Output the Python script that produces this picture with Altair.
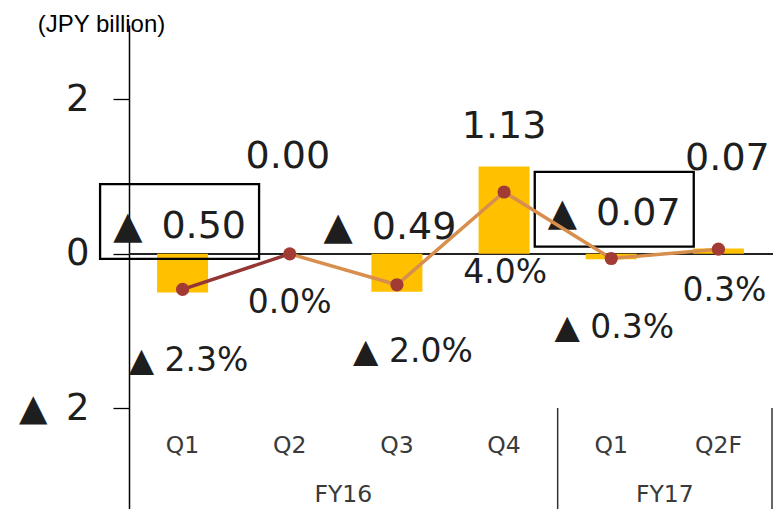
import altair as alt
import pandas as pd

# Quarterly operating result (JPY billion) and operating margin (%)
quarters = ["FY16 Q1", "FY16 Q2", "FY16 Q3", "FY16 Q4", "FY17 Q1", "FY17 Q2F"]
quarter_names = ["Q1", "Q2", "Q3", "Q4", "Q1", "Q2F"]
fiscal_years = ["FY16", "FY16", "FY16", "FY16", "FY17", "FY17"]
profit = [-0.50, 0.00, -0.49, 1.13, -0.07, 0.07]
margin = [-2.3, 0.0, -2.0, 4.0, -0.3, 0.3]
highlighted = ["FY16 Q1", "FY17 Q1"]

# pixel nudges for the value labels
profit_label_dx = [-3, -2, -7, 0, 3, 9]
profit_label_dy = [-55, -86, -53, -28, -34, -78]
margin_label_dx = [6, 0, 16, 1, 3, 6]
margin_label_dy = [82, 59, 77, 91, 80, 52]

FONT = "DejaVu Sans"
TEXT = "#1e1e1e"
BAR = "#FFC000"
LINE_DARK = "#943634"
LINE_LIGHT = "#D88E4C"
DOT = "#A33B35"
EN_SPACE = "\u2002"

PROFIT_DOMAIN = [-3.30, 2.96]
MARGIN_DOMAIN = [d * 5 for d in PROFIT_DOMAIN]  # 5 % per JPY billion


def marked(v, digits, suffix="", gap=" "):
    s = f"{abs(v):.{digits}f}{suffix}"
    return "▲" + gap + s if v < 0 else s


df = pd.DataFrame({
    "quarter": quarters,
    "qname": quarter_names,
    "fy": fiscal_years,
    "profit": profit,
    "margin": margin,
})
df["profit_label"] = [marked(v, 2, gap=EN_SPACE) for v in profit]
df["margin_label"] = [marked(v, 1, "%") for v in margin]

x_scale = alt.Scale(domain=quarters, paddingInner=0, paddingOuter=0)
X = alt.X("quarter:N", scale=x_scale, axis=None, sort=quarters)

y_profit_scale = alt.Scale(domain=PROFIT_DOMAIN, nice=False, zero=False)
y_margin_scale = alt.Scale(domain=MARGIN_DOMAIN, nice=False, zero=False)

Y_profit = alt.Y(
    "profit:Q",
    scale=y_profit_scale,
    axis=alt.Axis(
        values=[-2, 0, 2],
        labelExpr=f"datum.value < 0 ? '▲{EN_SPACE}' + format(abs(datum.value), 'd') : format(datum.value, 'd')",
        labelFont=FONT,
        labelFontSize=37,
        labelColor=TEXT,
        labelPadding=24,
        labelBaseline="middle",
        tickSize=16,
        tickColor="black",
        tickWidth=1.3,
        domainColor="black",
        domainWidth=1.5,
        grid=False,
        title="(JPY billion)",
        titleFont="Liberation Sans",
        titleFontSize=24,
        titleFontWeight="normal",
        titleColor="black",
        titleAngle=0,
        titleAlign="center",
        titleBaseline="alphabetic",
        titleX=-28,
        titleY=6,
    ),
)
Y_margin = alt.Y("margin:Q", scale=y_margin_scale, axis=None)

base = alt.Chart(df)

zero_line = base.mark_rule(color="#222", strokeWidth=1.4).encode(
    y=alt.Y(datum=0, scale=y_profit_scale), x=alt.value(0), x2=alt.value(644)
)

bars = base.mark_bar(size=51, color=BAR).encode(x=X, y=Y_profit)

profit_labels = []
for i, q in enumerate(quarters):
    profit_labels.append(
        base.transform_filter(alt.datum.quarter == q)
        .mark_text(
            dx=profit_label_dx[i], dy=profit_label_dy[i], font=FONT, fontSize=38,
            color=TEXT, align="center", baseline="alphabetic",
        )
        .encode(x=X, y=alt.Y("profit:Q", scale=y_profit_scale), text="profit_label:N")
    )
    if q in highlighted:
        profit_labels.append(
            base.transform_filter(alt.datum.quarter == q)
            .mark_point(
                shape="M-1,-0.47L1,-0.47L1,0.47L-1,0.47Z", size=159 ** 2,
                filled=False, color="black", strokeWidth=2.3, opacity=1,
                xOffset=profit_label_dx[i], yOffset=profit_label_dy[i] - 16,
            )
            .encode(x=X, y=alt.Y("profit:Q", scale=y_profit_scale))
        )

# category axis: quarter names, fiscal year groups and their separators
quarter_text = base.mark_text(
    font=FONT, fontSize=23.5, color="#3a3a3a", baseline="alphabetic"
).encode(x=X, y=alt.value(428), text="qname:N")

fy_names = list(dict.fromkeys(fiscal_years))
fy_members = {fy: [q for q, f in zip(quarters, fiscal_years) if f == fy] for fy in fy_names}
fy_df = pd.DataFrame({
    "fy": fy_names,
    "middle": [fy_members[f][len(fy_members[f]) // 2 - 1] for f in fy_names],
    "last": [fy_members[f][-1] for f in fy_names],
})
fy_text = alt.Chart(fy_df).mark_text(
    font=FONT, fontSize=23.5, color="#3a3a3a", baseline="alphabetic"
).encode(
    x=alt.X("middle:N", scale=x_scale, axis=None, bandPosition=1),
    y=alt.value(477),
    text="fy:N",
)
fy_separators = alt.Chart(fy_df).mark_rule(color="#333", strokeWidth=1.5).encode(
    x=alt.X("last:N", scale=x_scale, axis=None, bandPosition=1),
    y=alt.value(383),
    y2=alt.value(484),
)

profit_layer = alt.layer(
    zero_line, bars.encode(y=Y_profit), *profit_labels, quarter_text, fy_text, fy_separators
)

# margin line: first segment darker than the rest
seg_rows = []
for i, q in enumerate(quarters):
    if i <= 1:
        seg_rows.append({"quarter": q, "margin": margin[i], "seg": "first", "idx": i})
    if i >= 1:
        seg_rows.append({"quarter": q, "margin": margin[i], "seg": "rest", "idx": i})
seg_df = pd.DataFrame(seg_rows)

line = alt.Chart(seg_df).mark_line(strokeWidth=3.5).encode(
    x=X,
    y=Y_margin,
    color=alt.Color("seg:N", scale=alt.Scale(domain=["first", "rest"], range=[LINE_DARK, LINE_LIGHT]), legend=None),
    detail="seg:N",
    order=alt.Order("idx:Q"),
)
dots = base.mark_circle(size=175, color=DOT, opacity=1).encode(x=X, y=Y_margin)

margin_labels = []
for i, q in enumerate(quarters):
    margin_labels.append(
        base.transform_filter(alt.datum.quarter == q)
        .mark_text(
            dx=margin_label_dx[i], dy=margin_label_dy[i], font=FONT, fontSize=33,
            color=TEXT, align="center", baseline="alphabetic",
        )
        .encode(x=X, y=Y_margin, text="margin_label:N")
    )

margin_layer = alt.layer(line, dots, *margin_labels)

chart = (
    alt.layer(profit_layer, margin_layer)
    .resolve_scale(y="independent", color="independent")
    .properties(
        width=643,
        height=484,
        autosize=alt.AutoSizeParams(type="none"),
        padding={"left": 129, "top": 25, "right": 4, "bottom": 0},
        background="white",
    )
    .configure_view(stroke=None)
)

chart.save("out.html", embed_options={"renderer": "svg", "actions": False})
